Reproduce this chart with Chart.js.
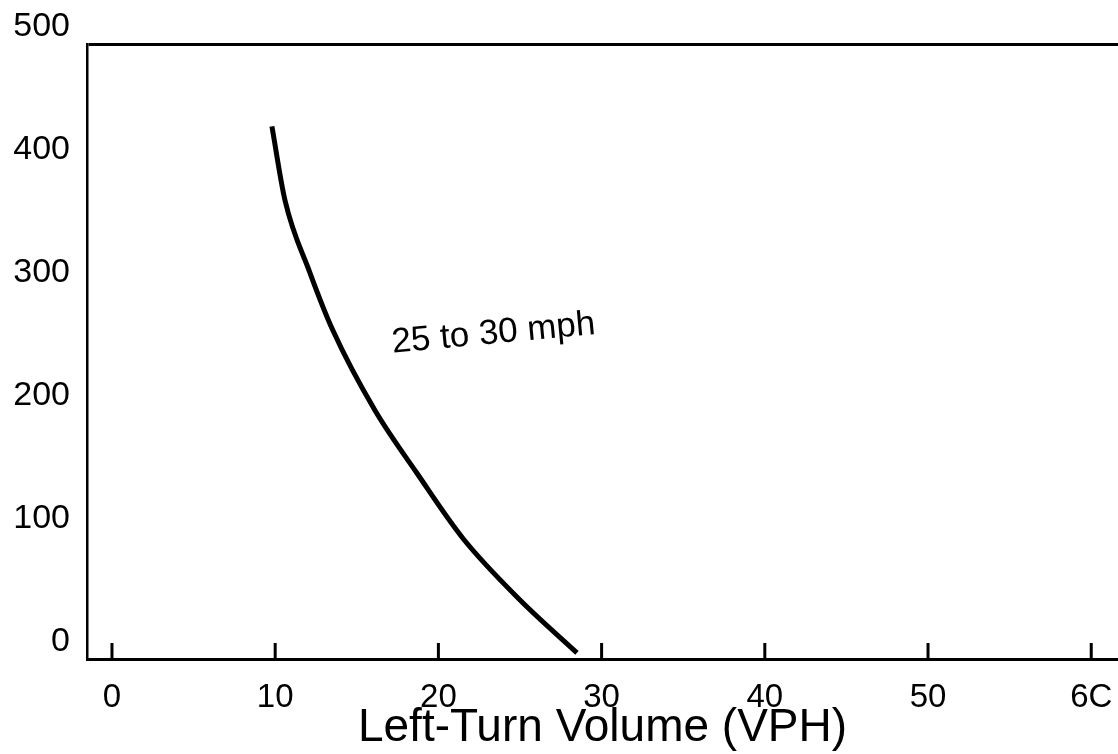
<!DOCTYPE html>
<html>
<head>
<meta charset="utf-8">
<script src="https://cdn.jsdelivr.net/npm/chart.js@4/dist/chart.umd.min.js"></script>
<style>
  html, body { margin: 0; padding: 0; background: #fff; }
  #wrap { width: 1118px; height: 754px; }
</style>
</head>
<body>
<div id="wrap"><canvas id="c" width="1118" height="754"></canvas></div>
<script>
// ---- data ----
const volumeX = [9.8, 10.6, 12.13, 13.54, 16.12, 18.69, 21.51, 25.0, 28.49];
const majorY  = [433, 373, 314, 267, 202, 151, 98, 48, 5];
const xTickValues = [0, 10, 20, 30, 40, 50, 60];
const xTickLabels = ['0', '10', '20', '30', '40', '50', '6C'];
const yTickValues = [0, 100, 200, 300, 400, 500];
const yTickLabels = ['0', '100', '200', '300', '400', '500'];
const curveLabel = '25 to 30 mph';
const xTitle = 'Left-Turn Volume (VPH)';

const FONT = "'Liberation Sans', Arial, Helvetica, sans-serif";

const tickMarks = {
  id: 'tickMarks',
  afterDraw(chart) {
    const { ctx, scales: { x }, chartArea } = chart;
    ctx.save();
    ctx.strokeStyle = '#000';
    ctx.lineWidth = 3;
    xTickValues.forEach(v => {
      const px = x.getPixelForValue(v);
      ctx.beginPath();
      ctx.moveTo(px, chartArea.bottom);
      ctx.lineTo(px, chartArea.bottom - 16);
      ctx.stroke();
    });
    ctx.restore();
  }
};

const curveText = {
  id: 'curveText',
  afterDraw(chart, args, opts) {
    const { ctx, scales: { x, y } } = chart;
    ctx.save();
    ctx.translate(x.getPixelForValue(opts.at[0]), y.getPixelForValue(opts.at[1]));
    ctx.rotate(opts.angle * Math.PI / 180);
    ctx.font = '35px ' + FONT;
    ctx.fillStyle = '#000';
    ctx.textBaseline = 'alphabetic';
    ctx.textAlign = 'left';
    ctx.fillText(opts.text, 0, 0);
    ctx.restore();
  }
};

new Chart(document.getElementById('c'), {
  type: 'line',
  data: {
    datasets: [{
      data: volumeX.map((v, i) => ({ x: v, y: majorY[i] })),
      borderColor: '#000',
      borderWidth: 5,
      pointRadius: 0,
      cubicInterpolationMode: 'monotone',
      fill: false,
      borderCapStyle: 'butt'
    }]
  },
  options: {
    responsive: false,
    animation: false,
    devicePixelRatio: 1,
    layout: { padding: { top: 44, left: 0, right: 0, bottom: 0 } },
    plugins: {
      legend: { display: false },
      tooltip: { enabled: false },
      curveText: { text: curveLabel, at: [17.2, 249], angle: -5.3 }
    },
    scales: {
      x: {
        type: 'linear',
        min: -1.53,
        max: 61.64,
        afterBuildTicks: s => { s.ticks = xTickValues.map(v => ({ value: v })); },
        afterFit: s => { s.height = 95; s.paddingLeft = 0; s.paddingRight = 0; },
        grid: { display: false, drawTicks: false },
        border: { display: true, color: '#000', width: 3 },
        ticks: {
          color: '#000',
          padding: 19,
          maxRotation: 0,
          autoSkip: false,
          font: { family: FONT, size: 33 },
          callback: (v) => xTickLabels[xTickValues.indexOf(v)]
        },
        title: {
          display: true,
          text: xTitle,
          color: '#000',
          font: { family: FONT, size: 46 },
          padding: { top: 0, bottom: -2 }
        }
      },
      y: {
        type: 'linear',
        min: 0,
        max: 500,
        afterBuildTicks: s => { s.ticks = yTickValues.map(v => ({ value: v })); },
        afterFit: s => { s.width = 87; },
        grid: {
          drawTicks: false,
          color: c => (c.tick && c.tick.value === 500) ? '#000' : 'rgba(0,0,0,0)',
          lineWidth: c => (c.tick && c.tick.value === 500) ? 3 : 0
        },
        border: { display: true, color: '#000', width: 2.5 },
        ticks: {
          color: '#000',
          padding: 17,
          labelOffset: -17,
          font: { family: FONT, size: 34 },
          callback: (v) => yTickLabels[yTickValues.indexOf(v)]
        }
      }
    }
  },
  plugins: [tickMarks, curveText]
});
</script>
</body>
</html>
